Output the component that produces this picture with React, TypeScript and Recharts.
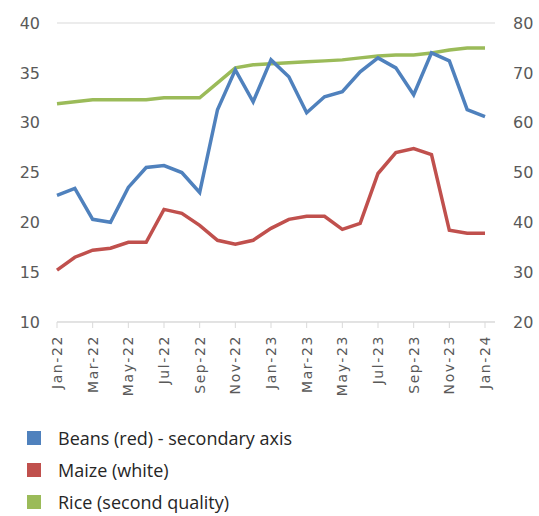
import React from 'react';
import { LineChart, Line, XAxis, YAxis, CartesianGrid, Legend } from 'recharts';

const months = [
  'Jan-22', 'Feb-22', 'Mar-22', 'Apr-22', 'May-22', 'Jun-22', 'Jul-22', 'Aug-22', 'Sep-22', 'Oct-22', 'Nov-22', 'Dec-22',
  'Jan-23', 'Feb-23', 'Mar-23', 'Apr-23', 'May-23', 'Jun-23', 'Jul-23', 'Aug-23', 'Sep-23', 'Oct-23', 'Nov-23', 'Dec-23',
  'Jan-24',
];

// beans read against the right-hand axis
const beans = [
  45.4, 46.8, 40.6, 40.0, 47.0, 51.0, 51.4, 50.0, 46.0, 62.6, 70.6, 64.2,
  72.6, 69.2, 62.0, 65.2, 66.2, 70.2, 73.0, 71.0, 65.6, 74.0, 72.4, 62.6,
  61.2,
];

const maize = [
  15.2, 16.5, 17.2, 17.4, 18.0, 18.0, 21.3, 20.9, 19.7, 18.2, 17.8, 18.2,
  19.4, 20.3, 20.6, 20.6, 19.3, 19.9, 24.9, 27.0, 27.4, 26.8, 19.2, 18.9,
  18.9,
];

const rice = [
  31.9, 32.1, 32.3, 32.3, 32.3, 32.3, 32.5, 32.5, 32.5, 34.0, 35.5, 35.8,
  35.9, 36.0, 36.1, 36.2, 36.3, 36.5, 36.7, 36.8, 36.8, 37.0, 37.3, 37.5,
  37.5,
];

const leftTicks = [10, 15, 20, 25, 30, 35, 40];
const rightTicks = [20, 30, 40, 50, 60, 70, 80];

const legendItems = [
  { label: 'Beans (red) - secondary axis', color: '#4f81bd' },
  { label: 'Maize (white)', color: '#c0504d' },
  { label: 'Rice (second quality)', color: '#9bbb59' },
];

const data = months.map((m, i) => ({ month: m, beans: beans[i], maize: maize[i], rice: rice[i] }));

const tickFont = '"DejaVu Sans", sans-serif';
const legendFont = '"Open Sans", sans-serif';

const MonthTick = (props: any) => {
  const { x, y, payload } = props;
  return (
    <g transform={`translate(${x},${y + 5})`}>
      <text
        transform="rotate(-90)"
        textAnchor="end"
        dy={5}
        fontSize={14}
        letterSpacing={1.6}
        fill="#595959"
        fontFamily={tickFont}
      >
        {payload.value}
      </text>
    </g>
  );
};

const LegendBox = () => (
  <div
    style={{
      height: 100,
      boxSizing: 'border-box',
      paddingLeft: 27,
      paddingTop: 6,
      fontFamily: legendFont,
      fontSize: 18,
      lineHeight: '22px',
      color: '#262626',
    }}
  >
    {legendItems.map((it) => (
      <div key={it.label} style={{ display: 'flex', alignItems: 'center', height: 32 }}>
        <span style={{ width: 14, height: 14, background: it.color, display: 'inline-block', marginRight: 17 }} />
        <span>{it.label}</span>
      </div>
    ))}
  </div>
);

export default function App() {
  return (
    <div style={{ position: 'absolute', left: 0, top: 0, background: '#fff' }}>
      <LineChart width={539} height={516} data={data} margin={{ top: 23, right: 0, bottom: 0, left: 0 }}>
        <CartesianGrid vertical={false} stroke="#d9d9d9" />
        <XAxis
          dataKey="month"
          interval={1}
          tick={<MonthTick />}
          height={94}
          padding={{ left: 0, right: 10 }}
          axisLine={{ stroke: '#d9d9d9' }}
          tickLine={{ stroke: '#d9d9d9' }}
          tickSize={6}
        />
        <YAxis
          yAxisId="left"
          domain={[10, 40]}
          ticks={leftTicks}
          width={57}
          axisLine={false}
          tickLine={false}
          tick={{ fill: '#595959', fontSize: 16, fontFamily: tickFont }}
          tickMargin={11}
        />
        <YAxis
          yAxisId="right"
          orientation="right"
          domain={[20, 80]}
          ticks={rightTicks}
          width={44}
          axisLine={false}
          tickLine={false}
          tick={{ fill: '#595959', fontSize: 16, fontFamily: tickFont }}
          tickMargin={12}
        />
        <Legend verticalAlign="bottom" align="left" content={<LegendBox />} />
        <Line yAxisId="left" dataKey="rice" stroke="#9bbb59" strokeWidth={3.5} dot={false} isAnimationActive={false} />
        <Line yAxisId="left" dataKey="maize" stroke="#c0504d" strokeWidth={3.5} dot={false} isAnimationActive={false} />
        <Line yAxisId="right" dataKey="beans" stroke="#4f81bd" strokeWidth={3.5} dot={false} isAnimationActive={false} />
      </LineChart>
    </div>
  );
}
